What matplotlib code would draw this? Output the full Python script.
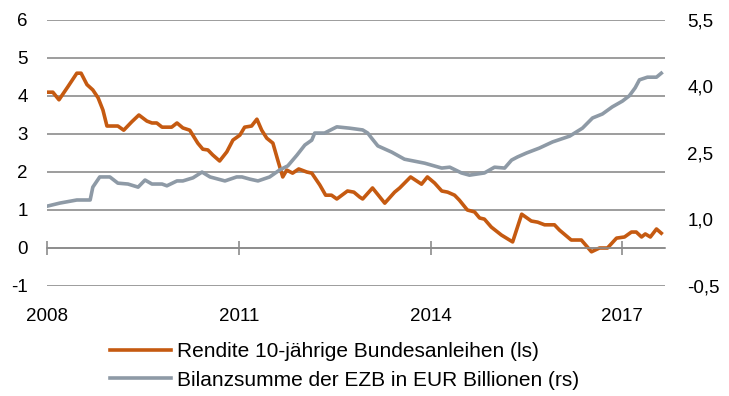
import numpy as np
import matplotlib
matplotlib.use("Agg")
import matplotlib.pyplot as plt

plt.rcParams['font.family'] = ['Liberation Sans', 'DejaVu Sans']

# months since Jan 2008
yield_months = [0, 1.1, 2.25, 3.9, 5.6, 6.4, 7.5, 8.6, 9.6, 10.5, 11.25, 13.3, 14.4, 15.9,
                17.25, 18.75, 19.7, 20.6, 21.6, 23.4, 24.4, 25.5, 26.8, 28.3, 29.25, 30.2,
                31.1, 32.4, 33.75, 34.9, 36.2, 37.1, 38.4, 39.4, 40.3, 41.25, 42.4, 43.3,
                44.25, 45, 46.1, 47.25, 48.75, 49.7, 51.2, 52.3, 53.4, 54.4, 56.4, 57.6,
                58.7, 59.25, 61.1, 63.4, 65.25, 66.2, 68.25, 70.3, 71.4, 72.75, 74.1, 75.2,
                76.5, 77.4, 78.9, 80.25, 81.2, 82.1, 83.4, 85.3, 87.4, 89.1, 90.9, 92.1,
                93.4, 95.25, 96.2, 98.4, 100.3, 102.2, 103.7, 105.2, 106.9, 108.4, 109.7,
                110.6, 111.6, 112.3, 113.25, 114.4, 115.3]
yield_vals = [4.1, 4.1, 3.9, 4.24, 4.6, 4.6, 4.3, 4.16, 3.95, 3.63, 3.21, 3.21, 3.1, 3.32,
              3.5, 3.34, 3.29, 3.29, 3.18, 3.18, 3.29, 3.16, 3.1, 2.76, 2.6, 2.58,
              2.45, 2.29, 2.53, 2.84, 2.97, 3.18, 3.21, 3.39, 3.1, 2.89, 2.76, 2.32,
              1.87, 2.05, 1.97, 2.08, 2.0, 1.97, 1.66, 1.39, 1.39, 1.29, 1.5, 1.47,
              1.34, 1.29, 1.58, 1.18, 1.47, 1.58, 1.87, 1.68, 1.87, 1.71, 1.5, 1.47,
              1.39, 1.26, 1.0, 0.95, 0.79, 0.76, 0.55, 0.34, 0.16, 0.89, 0.71, 0.68,
              0.61, 0.61, 0.47, 0.21, 0.21, -0.1, 0.0, 0.0, 0.26, 0.29, 0.42,
              0.42, 0.29, 0.37, 0.29, 0.5, 0.39]

ecb_months = [0, 2.4, 5.6, 8.1, 8.6, 9.9, 11.8, 13.3, 15.2, 17.1, 18.4, 19.7, 21.6, 22.5,
              24.4, 25.5, 27.4, 29.1, 30.6, 33.4, 35.6, 36.6, 38.1, 39.6, 41.8, 43.7,
              45.2, 46.9, 48.4, 49.7, 50.25, 52.1, 54.4, 56.8, 59.25, 60.2, 60.9, 62.1,
              64.7, 67.1, 70.9, 74.1, 75.6, 77.8, 79.3, 82.1, 84, 85.9, 87.2, 88.3, 90,
              92.4, 94.9, 98.1, 100.5, 102.4, 104.25, 106.1, 108, 109.3, 110.4, 111.2,
              112.7, 114.4, 115.3]
ecb_vals = [1.30, 1.37, 1.44, 1.44, 1.73, 1.96, 1.96, 1.82, 1.80, 1.73, 1.89, 1.80, 1.80, 1.76,
            1.87, 1.87, 1.94, 2.07, 1.96, 1.87, 1.96, 1.96, 1.91, 1.87, 1.96, 2.12,
            2.21, 2.45, 2.68, 2.79, 2.95, 2.95, 3.09, 3.06, 3.02, 2.95, 2.84, 2.66,
            2.52, 2.36, 2.27, 2.16, 2.18, 2.05, 2.0, 2.05, 2.18, 2.16, 2.34, 2.41, 2.5,
            2.61, 2.75, 2.88, 3.06, 3.29, 3.38, 3.54, 3.67, 3.79, 3.97, 4.15,
            4.21, 4.21, 4.3]

year_ticks = [2008, 2011, 2014, 2017]
left_ticks = [-1, 0, 1, 2, 3, 4, 5, 6]
right_ticks = [-0.5, 1.0, 2.5, 4.0, 5.5]
right_labels = ["-0,5", "1,0", "2,5", "4,0", "5,5"]

orange = '#C55A11'
grey = '#8E9AA6'
gridc = '#8C8C8C'
fs = 13.5

fig = plt.figure(figsize=(7.29, 3.96), dpi=100)
ax = fig.add_axes([47/729, 1-286/396, 618/729, 266/396])
ax2 = ax.twinx()

x1 = 2008 + np.array(yield_months) / 12
x2 = 2008 + np.array(ecb_months) / 12
l1, = ax.plot(x1, yield_vals, color=orange, lw=2.6, solid_joinstyle='round',
              label='Rendite 10-jährige Bundesanleihen (ls)')
l2, = ax2.plot(x2, ecb_vals, color=grey, lw=2.6, solid_joinstyle='round',
               label='Bilanzsumme der EZB in EUR Billionen (rs)')

ax.set_xlim(2008, 2008 + 116/12)
ax.set_ylim(-1, 6)
ax2.set_ylim(-0.5, 5.5)

ax.set_yticks(left_ticks)
ax.set_yticklabels([str(t) for t in left_ticks])
ax2.set_yticks(right_ticks)
ax2.set_yticklabels(right_labels)
ax.grid(axis='y', color=gridc, lw=1.2)
ax.set_axisbelow(True)

for a in (ax, ax2):
    for s in a.spines.values():
        s.set_visible(False)
ax.spines['bottom'].set_visible(True)
ax.spines['bottom'].set_position(('data', 0))
ax.spines['bottom'].set_color(gridc)
ax.spines['bottom'].set_linewidth(1.2)

ax.set_xticks(year_ticks)
ax.set_xticklabels([str(y) for y in year_ticks])
ax.tick_params(axis='x', direction='inout', length=10, width=1.2, color=gridc,
               pad=38, labelsize=fs)
ax.tick_params(axis='y', length=0, pad=14, labelsize=fs)
ax2.tick_params(axis='y', length=0, pad=16, labelsize=fs)

fig.legend(handles=[l1, l2], loc='center', bbox_to_anchor=(0.473, 1-366/396),
           frameon=False, fontsize=15, handlelength=2.9, handletextpad=0.3,
           labelspacing=0.45)

fig.savefig('out.png', dpi=100)
